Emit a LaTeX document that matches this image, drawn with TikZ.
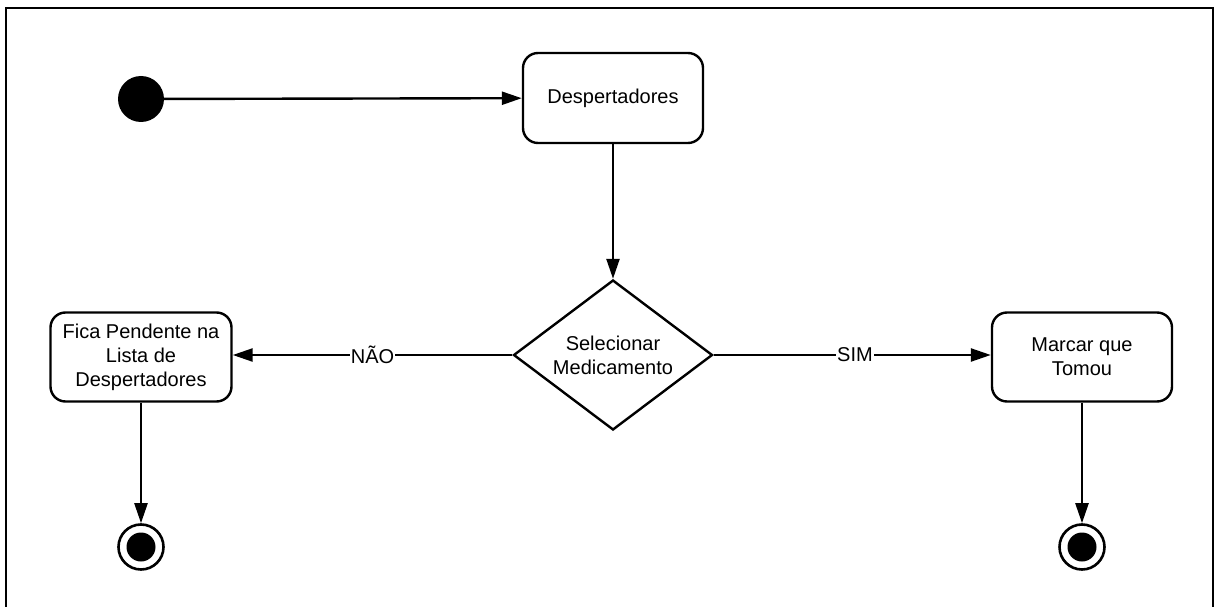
\documentclass[tikz,border=0pt]{standalone}
\usepackage{fontspec}
\setmainfont{Liberation Sans}
\usetikzlibrary{arrows.meta,shapes.geometric}

\tikzset{
  flow/.style={line width=2.4pt, -{Triangle[length=20pt,width=13pt]}},
  plain/.style={line width=2.4pt},
  activity/.style={draw, line width=2.4pt, rounded corners=15pt, align=center,
    font=\fontsize{20pt}{24pt}\selectfont, inner sep=0pt},
  decision/.style={draw, diamond, line width=2.4pt, aspect=1.33, align=center,
    minimum width=199pt, minimum height=150pt, inner sep=0pt,
    font=\fontsize{20pt}{24pt}\selectfont},
  startdot/.style={circle, fill=black, minimum size=46pt, inner sep=0pt},
  endring/.style={circle, draw, line width=2.6pt, minimum size=45pt, inner sep=0pt},
  guard/.style={fill=white, inner sep=1pt, font=\fontsize{20pt}{24pt}\selectfont}
}

\begin{document}
\begin{tikzpicture}[x=1pt, y=-1pt]
\useasboundingbox (0,0) rectangle (1219,607);

% outer frame (runs past the bottom edge)
\draw[line width=2.6pt] (6,607) -- (6,8) -- (1213,8) -- (1213,607);

% nodes
\node[startdot] (start) at (141,99) {};
\node[activity, minimum width=180pt, minimum height=90pt] (alarms) at (613,98) {Despertadores};
\node[decision] (select) at (613,355) {Selecionar\\Medicamento};
\node[activity, minimum width=181pt, minimum height=89pt] (pending) at (141,357)
  {Fica Pendente na\\Lista de\\Despertadores};
\node[activity, minimum width=180pt, minimum height=89pt] (taken) at (1082,357)
  {Marcar que\\Tomou};
\node[endring] (endL) at (141,547) {};
\node[endring] (endR) at (1082,547) {};
\fill (endL.center) circle (14.5pt);
\fill (endR.center) circle (14.5pt);

% connectors
\draw[flow] (start) -- (alarms);
\draw[flow] (alarms) -- (select);
\draw[flow] (select.west) -- (pending.east |- select.west)
  node[guard, pos=0.5] {NÃO};
\draw[flow] (select.east) -- (taken.west |- select.east)
  node[guard, pos=0.51] {SIM};
\draw[flow] (pending) -- (endL);
\draw[flow] (taken) -- (endR);
\end{tikzpicture}
\end{document}
